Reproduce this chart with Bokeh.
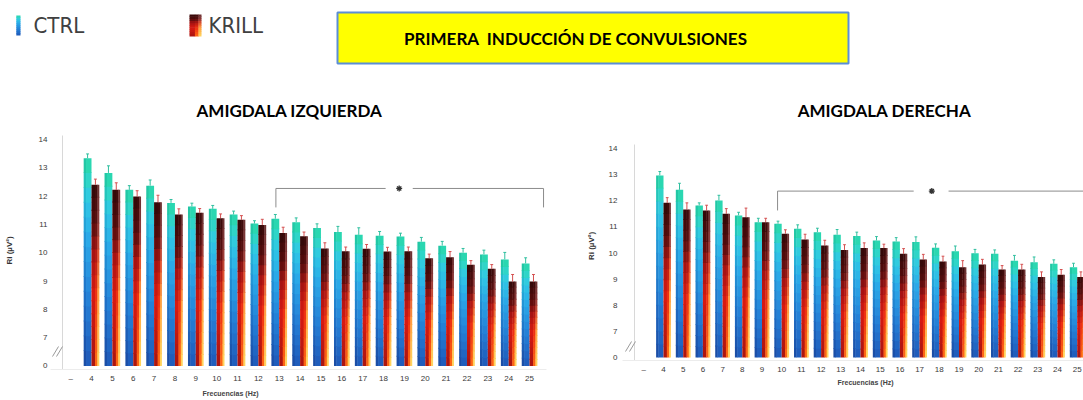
import numpy as np
from bokeh.plotting import figure
from bokeh.layouts import column, row
from bokeh.models import Range1d, FixedTicker, Title
from bokeh.core.properties import value
from bokeh.embed import file_html
from bokeh.resources import INLINE

# ---------------- data ----------------
freqs = list(range(4, 26))
series = ["CTRL", "KRILL"]
x_tick_values = [3] + freqs
x_tick_labels = ["–"] + [str(f) for f in freqs]
y_tick_values = [6, 7, 8, 9, 10, 11, 12, 13, 14]
y_tick_labels = ["0", "7", "8", "9", "10", "11", "12", "13", "14"]

main_title = "PRIMERA\u00a0 INDUCCIÓN DE CONVULSIONES"
left_title = "AMIGDALA IZQUIERDA"
right_title = "AMIGDALA DERECHA"
y_label = "Ri (µV²)"
x_label = "Frecuencias (Hz)"

left_ctrl = [13.34, 12.82, 12.22, 12.37, 11.76, 11.63, 11.55, 11.35, 11.03, 11.20, 11.08,
             10.87, 10.73, 10.63, 10.60, 10.57, 10.39, 10.25, 10.00, 9.94, 9.76, 9.62]
left_krill = [12.40, 12.22, 11.99, 11.78, 11.35, 11.41, 11.22, 11.16, 10.98, 10.70, 10.58,
              10.15, 10.05, 10.14, 10.04, 10.05, 9.80, 9.84, 9.57, 9.43, 8.98, 8.98]
left_ctrl_err = [0.15, 0.25, 0.15, 0.20, 0.12, 0.12, 0.12, 0.12, 0.10, 0.15, 0.15,
                 0.15, 0.20, 0.25, 0.15, 0.12, 0.15, 0.15, 0.15, 0.15, 0.25, 0.20]
left_krill_err = [0.20, 0.25, 0.20, 0.25, 0.20, 0.15, 0.15, 0.15, 0.20, 0.20, 0.15,
                  0.20, 0.15, 0.15, 0.15, 0.15, 0.15, 0.20, 0.15, 0.15, 0.25, 0.25]

right_ctrl = [12.97, 12.42, 11.82, 12.01, 11.44, 11.18, 11.12, 10.93, 10.80, 10.70, 10.65,
              10.48, 10.44, 10.42, 10.20, 10.07, 9.99, 9.97, 9.71, 9.65, 9.59, 9.46]
right_krill = [11.92, 11.67, 11.63, 11.50, 11.37, 11.18, 10.74, 10.52, 10.29, 10.12, 10.19,
               10.19, 9.97, 9.75, 9.68, 9.46, 9.56, 9.37, 9.37, 9.08, 9.17, 9.08]
right_ctrl_err = [0.15, 0.25, 0.10, 0.20, 0.12, 0.15, 0.10, 0.15, 0.15, 0.20, 0.15,
                  0.15, 0.15, 0.20, 0.15, 0.20, 0.15, 0.15, 0.20, 0.20, 0.15, 0.15]
right_krill_err = [0.20, 0.25, 0.20, 0.20, 0.35, 0.15, 0.15, 0.20, 0.20, 0.20, 0.20,
                   0.15, 0.20, 0.20, 0.20, 0.25, 0.20, 0.15, 0.20, 0.20, 0.20, 0.20]

# significance brackets: start, end, height, drop, star position, gap around star
left_sig = dict(start=12.84, end=25.67, y=12.27, drop=11.6, star=18.75, gap=(18.1, 19.4), right_leg=True)
right_sig = dict(start=9.79, end=26.5, y=12.37, drop=11.63, star=17.62, gap=(16.7, 18.47), right_leg=False)

BASE = 6.0      # axis break position (labelled "0")
BAR_W = 0.375

# ---------------- styling ----------------
CTRL_COLS = [
    (0.0, 0.3, [(0.0, "#1a4aa2"), (0.3, "#1f6cc4"), (0.6, "#2394d6"), (0.8, "#27b8d6"), (0.9, "#25c6b8"), (1.0, "#20c89a")]),
    (0.3, 1.0, [(0.0, "#1e58b8"), (0.3, "#247ed6"), (0.6, "#2aa8e8"), (0.8, "#30c8e6"), (0.9, "#2fd6c6"), (1.0, "#28d8a6")]),
]
KRILL_COLS = [
    (0.0, 0.45, [(0.0, "#a81410"), (0.4, "#d81a12"), (0.62, "#a51212"), (0.78, "#560c0c"), (1.0, "#300808")]),
    (0.45, 0.75, [(0.0, "#ff6a14"), (0.4, "#ee3012"), (0.62, "#b01814"), (0.78, "#5a1010"), (1.0, "#380a0a")]),
    (0.75, 1.0, [(0.0, "#ffd860"), (0.4, "#ffa040"), (0.62, "#e05030"), (0.78, "#903a3a"), (1.0, "#683030")]),
]
CTRL_ERR_COLOR = "#2fbf9f"
KRILL_ERR_COLOR = "#d45050"
FONT = "Liberation Sans"


def hex2rgb(h):
    h = h.lstrip("#")
    return np.array([int(h[i:i + 2], 16) for i in (0, 2, 4)], dtype=float)


def color_at(stops, t):
    for (p0, c0), (p1, c1) in zip(stops[:-1], stops[1:]):
        if t <= p1:
            f = (t - p0) / (p1 - p0) if p1 > p0 else 0
            c = hex2rgb(c0) * (1 - f) + hex2rgb(c1) * f
            return "#%02x%02x%02x" % tuple(int(round(v)) for v in c)
    return stops[-1][1]


def gradient_quads(lefts, rights, bottoms, tops, cols, n=14, ox=0.0, oy=0.0):
    L, R, B, T, C = [], [], [], [], []
    for l0, r0, b0, t0 in zip(lefts, rights, bottoms, tops):
        h = t0 - b0
        for ci, (u0, u1, stops) in enumerate(cols):
            l = l0 + (r0 - l0) * u0
            r = l0 + (r0 - l0) * u1 + (ox if ci < len(cols) - 1 else 0)
            for k in range(n):
                b = b0 + h * k / n
                t = b0 + h * (k + 1) / n + (oy if k < n - 1 else 0)
                L.append(l); R.append(r); B.append(b); T.append(t)
                C.append(color_at(stops, (k + 0.5) / n))
    return dict(left=L, right=R, bottom=B, top=T, color=C)


# ---------------- header ----------------
HEAD_H = 128
head = figure(width=1083, height=HEAD_H, x_range=Range1d(0, 1083), y_range=Range1d(0, HEAD_H),
              output_backend="svg", toolbar_location=None, x_axis_type=None, y_axis_type=None,
              min_border=0)
head.outline_line_color = None
head.xgrid.visible = False
head.ygrid.visible = False

# legend markers
g = gradient_quads([14], [20], [93], [113], CTRL_COLS[1:], n=10, oy=0.5)
head.quad(left="left", right="right", bottom="bottom", top="top", fill_color="color", line_color=None, source=g)
g = gradient_quads([189], [201], [92], [114], KRILL_COLS, n=10, ox=0.3, oy=0.5)
head.quad(left="left", right="right", bottom="bottom", top="top", fill_color="color", line_color=None, source=g)
head.text(x=[33, 208], y=[103, 103], text=series,
          text_font=value("DejaVu Sans Condensed, Roboto, sans-serif"),
          text_font_size="22px", text_color="#404040", text_align="left", text_baseline="middle")

# title box
head.quad(left=[337], right=[848], bottom=[65], top=[116], fill_color="#ffff00",
          line_color="#5b8ed6", line_width=2)
head.text(x=[575], y=[90], text=[main_title], text_font=value("Lato"), text_font_style="bold",
          text_font_size="17px", text_color="#000000", text_align="center", text_baseline="middle")

# chart subtitles
head.text(x=[289, 884], y=[18, 18], text=[left_title, right_title], text_font=value("Lato"),
          text_font_style="bold", text_font_size="17px", text_color="#000000",
          text_align="center", text_baseline="middle")


# ---------------- charts ----------------
def make_chart(spec, ctrl, krill, ctrl_err, krill_err, sig):
    xpu, ypu = spec["xpu"], spec["ypu"]
    fx0 = spec["x_ref"][0] - (spec["x_ref"][1] - spec["frame_left"]) / xpu
    fx1 = fx0 + spec["frame_w"] / xpu
    fy1 = spec["y_ref"][0] + (spec["y_ref"][1] - spec["frame_top"]) / ypu
    fy0 = fy1 - spec["frame_h"] / ypu

    def dx(px):
        return fx0 + (px - spec["frame_left"]) / xpu

    def dy(py):
        return fy1 - (py - spec["frame_top"]) / ypu

    bl = spec["frame_left"] - spec["fig_left"]
    bt = spec["frame_top"] - 128
    p = figure(frame_width=spec["frame_w"], frame_height=spec["frame_h"],
               x_range=Range1d(fx0, fx1), y_range=Range1d(fy0, fy1),
               output_backend="svg", toolbar_location=None,
               min_border_left=bl, min_border_right=spec["border_r"],
               min_border_top=bt, min_border_bottom=spec["border_b"])
    p.outline_line_color = None
    p.xgrid.visible = False
    p.ygrid.visible = False

    for ax, ticks, labels, standoff in ((p.xaxis, x_tick_values, x_tick_labels, 4),
                                        (p.yaxis, y_tick_values, y_tick_labels, spec["ystand"])):
        ax.ticker = FixedTicker(ticks=ticks)
        ax.major_label_overrides = dict(zip(ticks, labels))
        ax.major_tick_line_color = None
        ax.minor_tick_line_color = None
        ax.major_tick_out = 0
        ax.major_tick_in = 0
        ax.major_label_text_font = FONT
        ax.major_label_text_font_size = "8px"
        ax.major_label_text_color = "#3a3a3a"
        ax.major_label_standoff = standoff
    p.xaxis.axis_line_color = "#ececec"
    p.yaxis.axis_line_color = None
    p.yaxis.axis_label = y_label
    p.yaxis.axis_label_text_font = FONT
    p.yaxis.axis_label_text_font_size = "8px"
    p.yaxis.axis_label_text_font_style = "bold"
    p.yaxis.axis_label_text_color = "#333333"
    p.yaxis.axis_label_standoff = spec["ylab_standoff"]

    p.add_layout(Title(text=x_label, align="left", offset=spec["xlab_offset"],
                       text_font=FONT, text_font_size="7px", text_font_style="bold",
                       text_color="#444444", standoff=spec["xlab_standoff"]), "below")

    # visible y axis line (offset from frame edge to leave room for the break mark)
    ax_x = dx(spec["axis_px"])
    p.segment(x0=[ax_x], y0=[fy0], x1=[ax_x], y1=[dy(spec["y_ref"][1] - 4)], line_color="#d8d8d8", line_width=1)
    # axis break mark "//"
    bx, by = spec["brk"]
    p.segment(x0=[dx(bx - 6), dx(bx - 2)], y0=[dy(by + 5), dy(by + 5)],
              x1=[dx(bx), dx(bx + 4)], y1=[dy(by - 5), dy(by - 5)], line_color="#9a9a9a", line_width=1)

    f = np.array(freqs, dtype=float)
    ctrl = np.array(ctrl); krill = np.array(krill)
    base = np.full(len(f), BASE)
    g = gradient_quads(f - BAR_W, f, base, ctrl, CTRL_COLS, n=14, ox=0.02, oy=0.03)
    p.quad(left="left", right="right", bottom="bottom", top="top", fill_color="color", line_color=None, source=g)
    g = gradient_quads(f, f + BAR_W, base, krill, KRILL_COLS, n=14, ox=0.02, oy=0.03)
    p.quad(left="left", right="right", bottom="bottom", top="top", fill_color="color", line_color=None, source=g)

    cap = 0.07
    for xc, v, e, col in ((f - BAR_W / 2, ctrl, np.array(ctrl_err), CTRL_ERR_COLOR),
                          (f + BAR_W / 2, krill, np.array(krill_err), KRILL_ERR_COLOR)):
        p.segment(x0=xc, y0=v, x1=xc, y1=v + e, line_color=col, line_width=1)
        p.segment(x0=xc - cap, y0=v + e, x1=xc + cap, y1=v + e, line_color=col, line_width=1)

    # significance bracket
    s = sig
    x0s = [s["start"], s["start"], s["gap"][1]]
    y0s = [s["drop"], s["y"], s["y"]]
    x1s = [s["start"], s["gap"][0], s["end"]]
    y1s = [s["y"], s["y"], s["y"]]
    if s["right_leg"]:
        x0s.append(s["end"]); y0s.append(s["y"]); x1s.append(s["end"]); y1s.append(s["drop"])
    p.segment(x0=x0s, y0=y0s, x1=x1s, y1=y1s, line_color="#8c8c8c", line_width=1)
    p.scatter(x=[s["star"]], y=[s["y"]], marker="asterisk", size=6, line_color="#333333", line_width=1.3)
    return p


LEFT = dict(fig_left=0, frame_left=50, frame_w=496, border_r=14, frame_top=131, frame_h=238, border_b=31,
            axis_px=62, x_ref=(4, 91), xpu=20.86, y_ref=(14, 139), ypu=28.3, ystand=3,
            ylab_standoff=22, xlab_offset=152, xlab_standoff=5, brk=(58, 351))
RIGHT = dict(fig_left=560, frame_left=622, frame_w=461, border_r=0, frame_top=131, frame_h=229, border_b=40,
             axis_px=634, x_ref=(4, 663), xpu=19.7, y_ref=(14, 148), ypu=26.14, ystand=5,
             ylab_standoff=10, xlab_offset=215, xlab_standoff=1, brk=(631, 346))

pl = make_chart(LEFT, left_ctrl, left_krill, left_ctrl_err, left_krill_err, left_sig)
pr = make_chart(RIGHT, right_ctrl, right_krill, right_ctrl_err, right_krill_err, right_sig)

layout = column(head, row(pl, pr, spacing=0), spacing=0)
open("out.html", "w").write(file_html(layout, INLINE))
